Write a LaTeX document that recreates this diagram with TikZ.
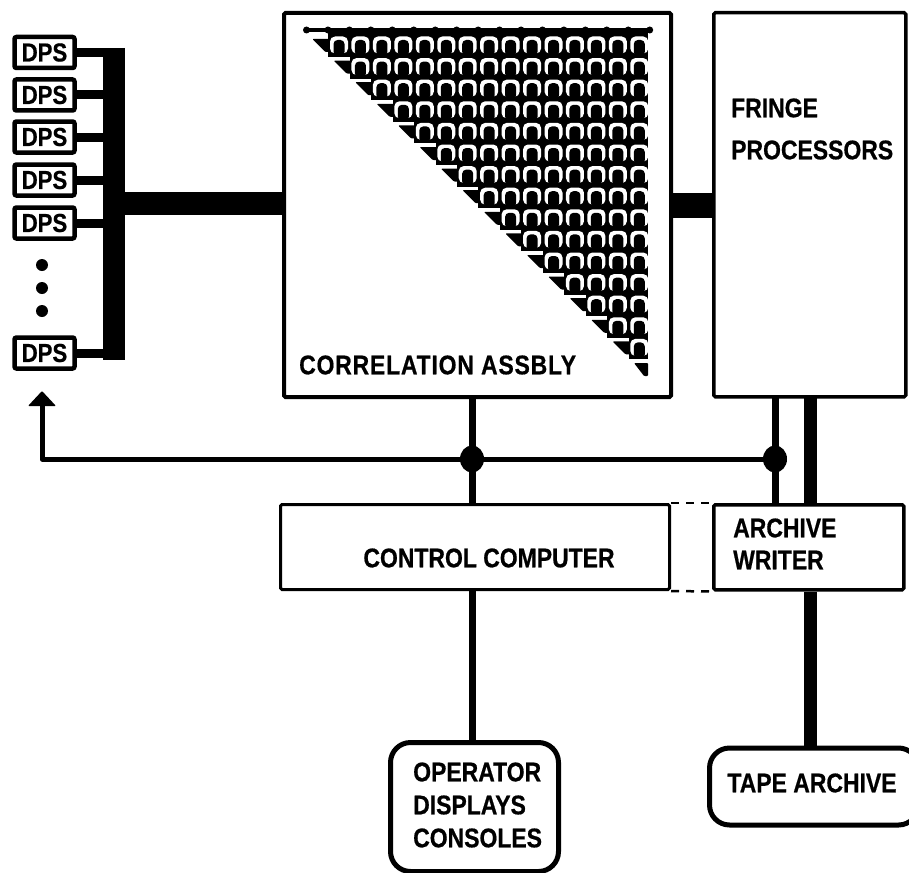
\documentclass[tikz,border=0pt]{standalone}
\usepackage{fontspec}
\setmainfont[FakeStretch=0.85,BoldFeatures={FakeBold=0.6}]{Liberation Sans}
\usetikzlibrary{shapes.geometric,arrows.meta}
\tikzset{
  x=1pt,y=-1pt,
  lbl/.style={font=\bfseries\fontsize{27}{33}\selectfont,align=left,inner sep=0pt,text=black},
  bigbox/.style={draw,line width=#1,fill=white,inner sep=0pt,rounded corners=1.5pt},
  bigbox/.default=3pt,
  dpsbox/.style={draw,line width=4.5pt,fill=white,rounded corners=2pt,minimum width=60pt,minimum height=31pt,inner sep=0pt,font=\bfseries\fontsize{26}{26}\selectfont},
  termbox/.style={draw,line width=5pt,fill=white,rectangle,rounded corners=20pt,inner sep=0pt},
  bus/.style={line width=#1,line cap=butt},
  junction/.style={ellipse,fill=black,minimum width=24pt,minimum height=27pt,inner sep=0pt},
  dotmark/.style={circle,fill=black,minimum size=12pt,inner sep=0pt},
  link/.style={line width=2.5pt,dash pattern=on 8pt off 7pt},
}
\begin{document}
\begin{tikzpicture}
\useasboundingbox (0,0) rectangle (909,872);
\fill[white] (0,0) rectangle (909,872);
% main boxes
\node[bigbox=4pt,anchor=north west,minimum width=387pt,minimum height=384pt] (corr) at (282,11) {};
\node[bigbox=3.5pt,anchor=north west,minimum width=192pt,minimum height=384pt] (fringe) at (712,11) {};
\node[bigbox=3pt,anchor=north west,minimum width=389pt,minimum height=85pt] (ctrl) at (279,503) {};
\node[bigbox=3.5pt,anchor=north west,minimum width=190pt,minimum height=85pt] (arch) at (712,503) {};
\node[termbox,anchor=north west,minimum width=168pt,minimum height=129pt] (oper) at (388,740) {};
\node[termbox,anchor=north west,minimum width=209pt,minimum height=77pt] (tape) at (707,745.5) {};
% triangular correlator array
\draw[line width=4pt] (305,30.5) -- (650,30.5);
\foreach \k in {0,...,16}{
  \fill[black] (306.5+21.45*\k,30) circle (3.5pt);
}
\foreach \r in {0,...,14}{
  \pgfmathsetmacro\yc{45+21.6*\r}
  \pgfmathsetmacro\xl{339+21.45*\r-10.7}
  \fill[black] (\xl,\yc-13) rectangle (648,\yc+12);
  \fill[black,rounded corners=1pt] (\xl-16,\yc-6) -- (\xl+2,\yc-6) -- (\xl+2,\yc+7) -- (\xl-3,\yc+7) -- cycle;
  \foreach \c in {\r,...,14}{
    \pgfmathsetmacro\xc{339+21.45*\c}
    \fill[white,rounded corners=5pt] (\xc-9,\yc+8.5) -- (\xc-9,\yc-8.5) -- (\xc+9,\yc-8.5) -- (\xc+9,\yc+8.5) -- cycle;
    \fill[black,rounded corners=4pt] (\xc-5.5,\yc+11) -- (\xc-5.5,\yc-5) -- (\xc+5.5,\yc-5) -- (\xc+5.5,\yc+11) -- cycle;
  }
}
\fill[black,rounded corners=1pt] (634,363) -- (648,363) -- (648,376) -- (644,376) -- cycle;
% labels in boxes
\node[lbl,anchor=west] (corrl) at (299,365) {\addfontfeatures{LetterSpace=3}CORRELATION ASSBLY};
\node[lbl,anchor=west] (frl1) at (731,108) {FRINGE};
\node[lbl,anchor=west] (frl2) at (731,150) {PROCESSORS};
\node[lbl,anchor=center] (ctl) at (489,558) {CONTROL COMPUTER};
\node[lbl,anchor=west] (arl1) at (733,528) {ARCHIVE};
\node[lbl,anchor=west] (arl2) at (733,560) {WRITER};
\node[lbl,anchor=west] (opl1) at (413,772) {OPERATOR};
\node[lbl,anchor=west] (opl2) at (413,805) {DISPLAYS};
\node[lbl,anchor=west] (opl3) at (413,838) {CONSOLES};
\node[lbl,anchor=center] (tpl) at (812,783) {TAPE ARCHIVE};
% DPS units
\foreach \n/\y in {a/52.5,b/95,c/137,d/180,e/223,f/353}{
  \node[dpsbox] (dps\n) at (44.5,\y) {DPS};
}
\coordinate (bustop) at (114,48);
\coordinate (busbot) at (114,360);
\draw[bus=22pt] (bustop) -- (busbot);
\foreach \n in {a,b,c,d,e,f}{
  \draw[bus=9pt] (dps\n.east) -- (dps\n.east -| bustop);
}
\node[dotmark] (d1) at (42,265) {};
\node[dotmark] (d2) at (42,288) {};
\node[dotmark] (d3) at (42,311) {};
\coordinate (busmid) at (125,203);
\draw[bus=23pt] (busmid) -- (busmid -| corr.west);
\coordinate (ringy) at (690,205);
\draw[bus=25pt] (ringy -| corr.east) -- (ringy -| fringe.west);
% control network
\coordinate (cj) at (472,459);
\coordinate (fj) at (775,459);
\coordinate (cfx) at (775,396);
\coordinate (tfx) at (810,396);
\coordinate (hl) at (42,459);
\coordinate (dpsarrow) at (42,391);
\draw[line width=5pt,line join=round] (fj) -- (hl) -- (42,404);
\fill[black,rounded corners=1pt] (dpsarrow) -- (56,406) -- (28,406) -- cycle;
\draw[bus=7pt] (corr.south -| cj) -- (ctrl.north -| cj);
\draw[bus=7pt] (cfx) -- (arch.north -| cfx);
\draw[bus=13pt] (tfx) -- (arch.north -| tfx);
\node[junction] (j1) at (cj) {};
\node[junction] (j2) at (fj) {};
\draw[bus=7pt] (ctrl.south -| cj) -- (oper.north -| cj);
\draw[bus=13pt] (arch.south -| tfx) -- (tape.north -| tfx);
\draw[link] (ctrl.north east) -- (arch.north west);
\draw[link] (ctrl.south east) -- (arch.south west);
\end{tikzpicture}
\end{document}
